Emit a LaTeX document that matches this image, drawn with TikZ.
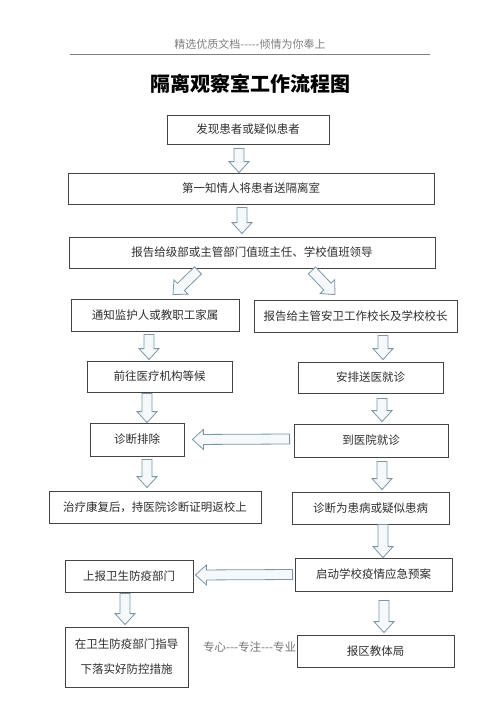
\documentclass[tikz,border=0pt]{standalone}
\usepackage{fontspec}
\usepackage{tikz}
\usepackage{xcolor}
\usetikzlibrary{calc}

\newfontfamily\cjk{Noto Sans CJK SC}
\definecolor{boxline}{HTML}{444444}
\definecolor{arrowline}{HTML}{7D97A6}
\definecolor{arrowfill}{HTML}{F5F9FC}
\definecolor{textgray}{HTML}{2E2E2E}

\tikzset{
  stepbox/.style={draw=boxline, line width=0.8pt, fill=white, text=textgray,
    inner sep=0pt, font=\cjk\fontsize{11.5}{14}\selectfont, align=center},
  pics/barrow/.style={code={
    \draw[draw=arrowline, fill=arrowfill, line width=0.8pt, line join=miter]
      (0pt,-5pt) -- (#1-11pt,-5pt) -- (#1-11pt,-10pt) -- (#1,0pt)
      -- (#1-11pt,10pt) -- (#1-11pt,5pt) -- (0pt,5pt) -- cycle;}}
}

\newcommand\blockarrow[2]{%
  \path let \p1=($(#2)-(#1)$), \n1={veclen(\x1,\y1)}, \n2={atan2(\y1,\x1)}
    in (#1) pic[rotate=\n2] {barrow=\n1};}

\begin{document}
\begin{tikzpicture}[x=1pt, y=1pt]
  \useasboundingbox[fill=white] (0,0) rectangle (500,-707);

  % Header and title
  \node (header) at (250,-44) [text=gray, font=\cjk\fontsize{11}{13}\selectfont] {精选优质文档-----倾情为你奉上};
  \draw[gray, line width=0.6pt] (70,-54) -- (430,-54);
  \node (title) at (250,-84) [text=black, font=\cjk\bfseries\fontsize{20}{24}\selectfont] {隔离观察室工作流程图};

  % Footer (partly hidden under the last box)
  \node (footer) at (203,-647) [anchor=west, inner sep=0pt, text=gray!90!black,
    font=\cjk\fontsize{11.5}{14}\selectfont] {专心---专注---专业};

  % Boxes
  \node (find) at (248,-129.5) [stepbox, minimum width=162, minimum height=29] {发现患者或疑似患者};
  \node (isolate) at (251,-188.5) [stepbox, minimum width=366, minimum height=31] {第一知情人将患者送隔离室};
  \node (report) at (252,-252.5) [stepbox, minimum width=366, minimum height=31] {报告给级部或主管部门值班主任、学校值班领导};
  \node (notify) at (155,-315) [stepbox, minimum width=168, minimum height=32] {通知监护人或教职工家属};
  \node (reportHead) at (355.5,-316) [stepbox, minimum width=203, minimum height=32] {报告给主管安卫工作校长及学校校长};
  \node (hospitalWait) at (159.5,-376.5) [stepbox, minimum width=145, minimum height=31] {前往医疗机构等候};
  \node (arrange) at (370.5,-377.5) [stepbox, minimum width=145, minimum height=31] {安排送医就诊};
  \node (exclude) at (137,-439.5) [stepbox, minimum width=94, minimum height=33] {诊断排除};
  \node (visit) at (371,-440.5) [stepbox, minimum width=154, minimum height=33] {到医院就诊};
  \node (returnSchool) at (155,-507) [stepbox, minimum width=212, minimum height=32] {治疗康复后，持医院诊断证明返校上};
  \node (diagnosed) at (370.5,-508) [stepbox, minimum width=157, minimum height=32] {诊断为患病或疑似患病};
  \node (reportHealth) at (129,-576) [stepbox, minimum width=128, minimum height=32] {上报卫生防疫部门};
  \node (plan) at (373.5,-574.5) [stepbox, minimum width=157, minimum height=33] {启动学校疫情应急预案};
  \node (guidance) at (126.5,-657) [stepbox, minimum width=123, minimum height=60] {在卫生防疫部门指导\\[11pt]下落实好防控措施};
  \node (bureau) at (375.5,-651) [stepbox, minimum width=157, minimum height=32] {报区教体局};

  % Block arrows
  \blockarrow{[xshift=-9pt,yshift=-4pt]find.south}{[xshift=-12pt]isolate.north}
  \blockarrow{[xshift=-9pt,yshift=-3pt]isolate.south}{[xshift=-10pt,yshift=3pt]report.north}
  \blockarrow{[xshift=-54pt,yshift=-2pt]report.south}{[xshift=18pt,yshift=4pt]notify.north}
  \blockarrow{[xshift=60pt,yshift=-2pt]report.south}{[xshift=-20.5pt,yshift=5pt]reportHead.north}
  \blockarrow{[xshift=-6pt,yshift=-3pt]notify.south}{[xshift=-10.5pt,yshift=1pt]hospitalWait.north}
  \blockarrow{[xshift=27.5pt,yshift=-3pt]reportHead.south}{[xshift=12.5pt,yshift=2pt]arrange.north}
  \blockarrow{[xshift=-12.5pt,yshift=-1pt]hospitalWait.south}{[xshift=10pt]exclude.north}
  \blockarrow{[xshift=11.5pt,yshift=-5pt]arrange.south}{[xshift=11pt,yshift=2pt]visit.north}
  \blockarrow{[xshift=-4pt,yshift=1.5pt]visit.west}{[xshift=8pt]exclude.east}
  \blockarrow{[xshift=10pt,yshift=-3pt]exclude.south}{[xshift=-8pt,yshift=3pt]returnSchool.north}
  \blockarrow{[xshift=11pt,yshift=-4pt]visit.south}{[xshift=11.5pt,yshift=2pt]diagnosed.north}
  \blockarrow{[xshift=12.5pt]diagnosed.south}{[xshift=9.5pt]plan.north}
  \blockarrow{[xshift=-2pt]plan.west}{[xshift=2pt,yshift=1pt]reportHealth.east}
  \blockarrow{[xshift=-4pt,yshift=-1pt]reportHealth.south}{[xshift=-1.5pt,yshift=2pt]guidance.north}
  \blockarrow{[xshift=10.5pt,yshift=-9pt]plan.south}{[xshift=8.5pt,yshift=2pt]bureau.north}
\end{tikzpicture}
\end{document}
